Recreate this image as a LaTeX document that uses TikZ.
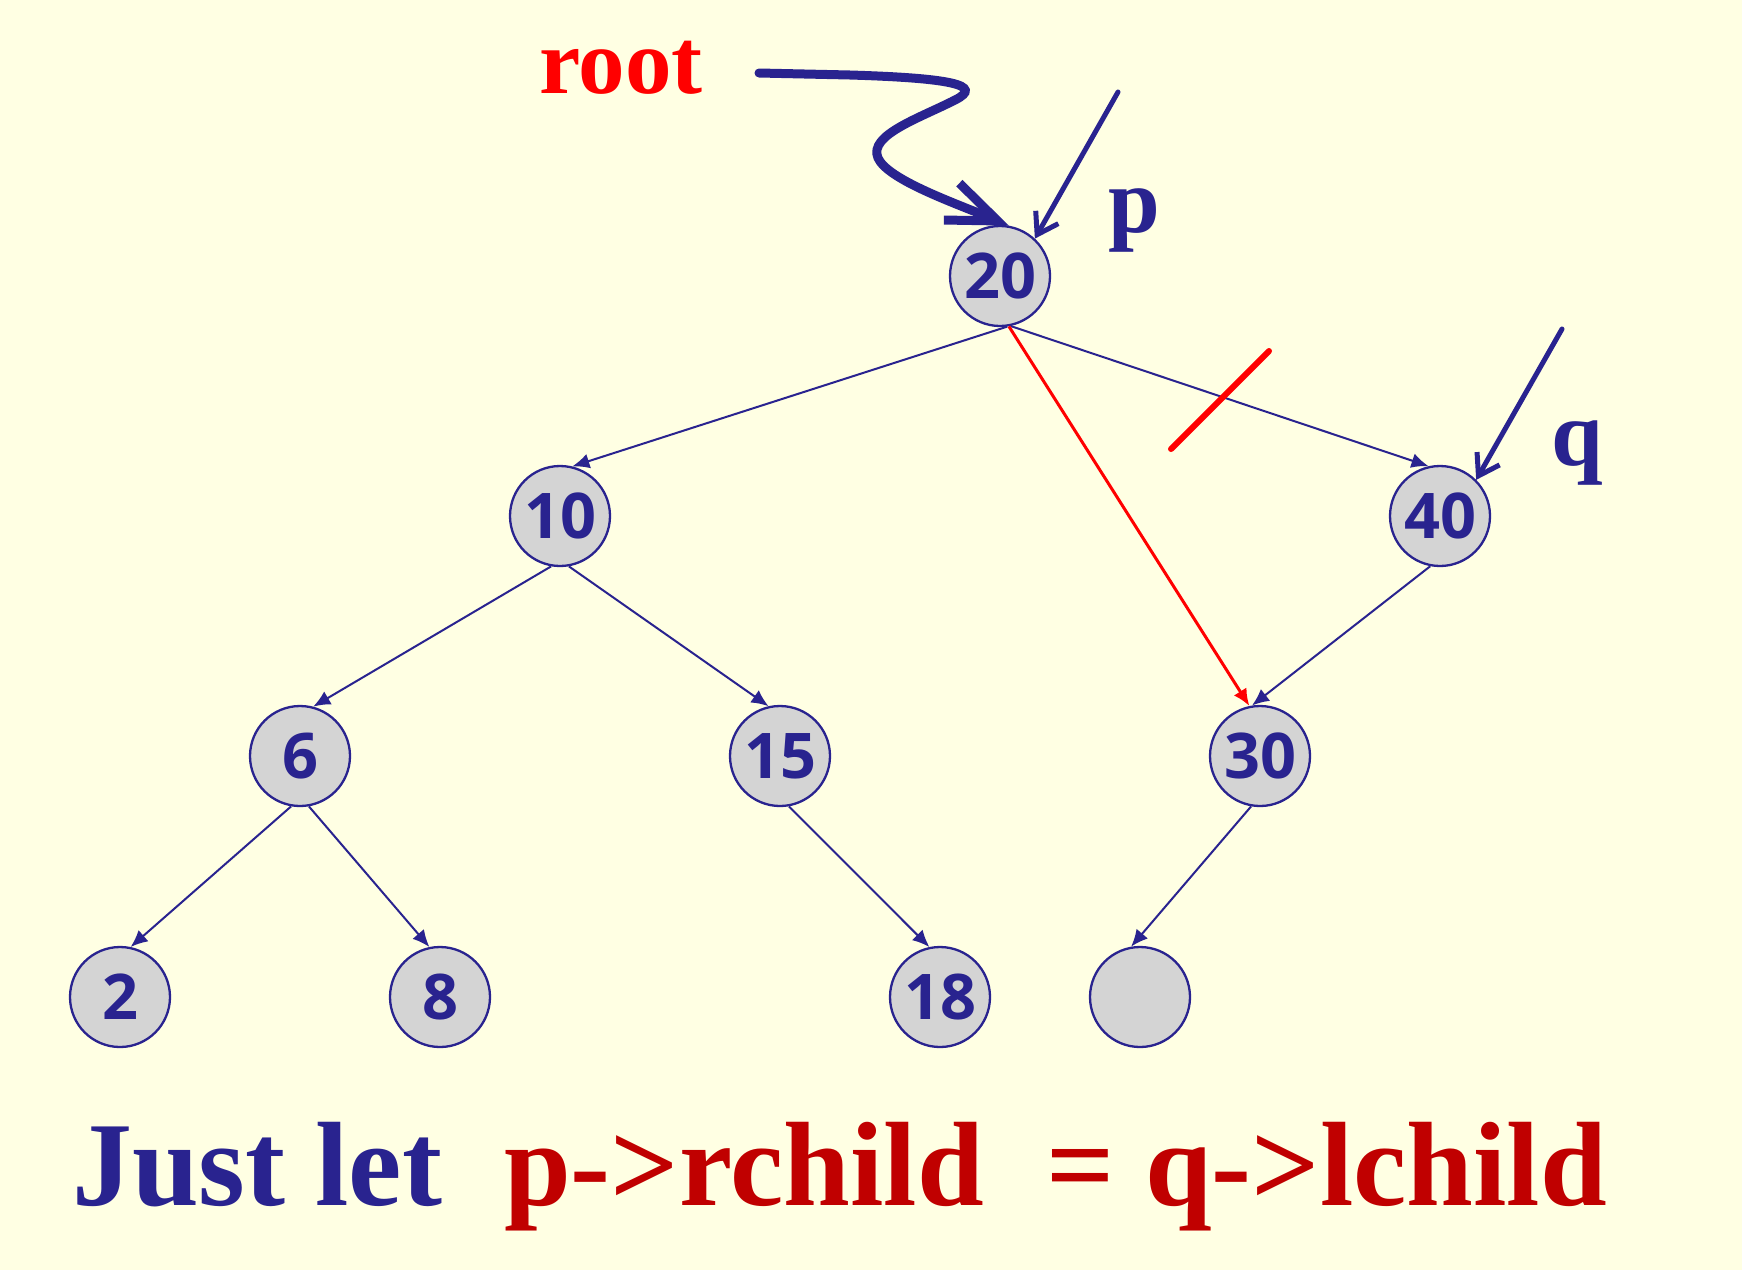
\documentclass[tikz,border=0pt]{standalone}
\usepackage{fontspec}
\setmainfont{Liberation Serif}
\newfontfamily\nodefont{Open Sans}
\usetikzlibrary{arrows.meta}
\definecolor{bg}{HTML}{FFFFE3}
\definecolor{navy}{HTML}{29238F}
\definecolor{dred}{HTML}{C00000}
\definecolor{ngrey}{HTML}{D4D4D4}
\begin{document}
\begin{tikzpicture}[x=1pt,y=-1pt,
  tnode/.style={circle, draw=navy, fill=ngrey, line width=2.3pt, minimum size=100pt, inner sep=0pt,
    font=\nodefont\bfseries\fontsize{63}{63}\selectfont, text=navy},
  edge/.style={navy, line width=2pt, -{Latex[length=17pt,width=15pt]}},
  redge/.style={red, line width=3pt, -{Latex[length=17pt,width=15pt]}},
  ptr/.style={navy, line width=5pt, line cap=round, -{Straight Barb[length=20pt,width=26pt]}},
  rootptr/.style={navy, line width=9pt, line cap=round, -{Straight Barb[length=50pt,width=40pt]}},
  lbl/.style={inner sep=0pt, anchor=base west, font=\bfseries\fontsize{93}{93}\selectfont}
]
\fill[bg] (0,0) rectangle (1742,1270);
\useasboundingbox (0,0) rectangle (1742,1270);

% tree nodes
\node[tnode] (n20) at (1000,276) {20};
\node[tnode] (n10) at (560,516) {10};
\node[tnode] (n40) at (1440,516) {40};
\node[tnode] (n6)  at (300,756) {6};
\node[tnode] (n15) at (780,756) {15};
\node[tnode] (n30) at (1260,756) {30};
\node[tnode] (n2)  at (120,997) {2};
\node[tnode] (n8)  at (440,997) {8};
\node[tnode] (n18) at (940,997) {18};
\node[tnode] (ne)  at (1140,997) {};

% edges
\draw[edge] (n20.278) -- (n10.76);
\draw[edge] (n20.282) -- (n40.103);
\draw[edge] (n10.260) -- (n6.75);
\draw[edge] (n10.280) -- (n15.103);
\draw[edge] (n40.259) -- (n30.99);
\draw[edge] (n6.260) -- (n2.78);
\draw[edge] (n6.280) -- (n8.102);
\draw[edge] (n15.280) -- (n18.102);
\draw[edge] (n30.260) -- (ne.100);
\draw[redge] (n20.280) -- (n30.102);

% cross mark
\coordinate (c1) at (1171,449);
\coordinate (c2) at (1269,351);
\draw[red, line width=6pt, line cap=round] (c1) -- (c2);

% labels
\node[lbl, text=red] (root) at (539,93) {root};
\node[lbl, text=navy] (plbl) at (1108,232) {p};
\node[lbl, text=navy] (qlbl) at (1551,465) {q};

% pointers
\coordinate (rs) at (759,73);
\draw[rootptr] (rs) -- (850,75) .. controls (950,78) and (985,85) .. (955,100)
  .. controls (920,118) and (868,135) .. (878,158)
  .. controls (888,180) and (955,203) .. (n20.80);
\coordinate (ps) at (1118,92);
\draw[ptr] (ps) -- (n20.47);
\coordinate (qs) at (1562,329);
\draw[ptr] (qs) -- (n40.45);

% bottom statement
\node[inner sep=0pt, anchor=base west, font=\bfseries\fontsize{120}{120}\selectfont, text=navy] (msg) at (72,1205)
  {Just let\hspace{62pt}\textcolor{dred}{p->rchild\hspace{63pt}= q->lchild}};
\end{tikzpicture}
\end{document}
